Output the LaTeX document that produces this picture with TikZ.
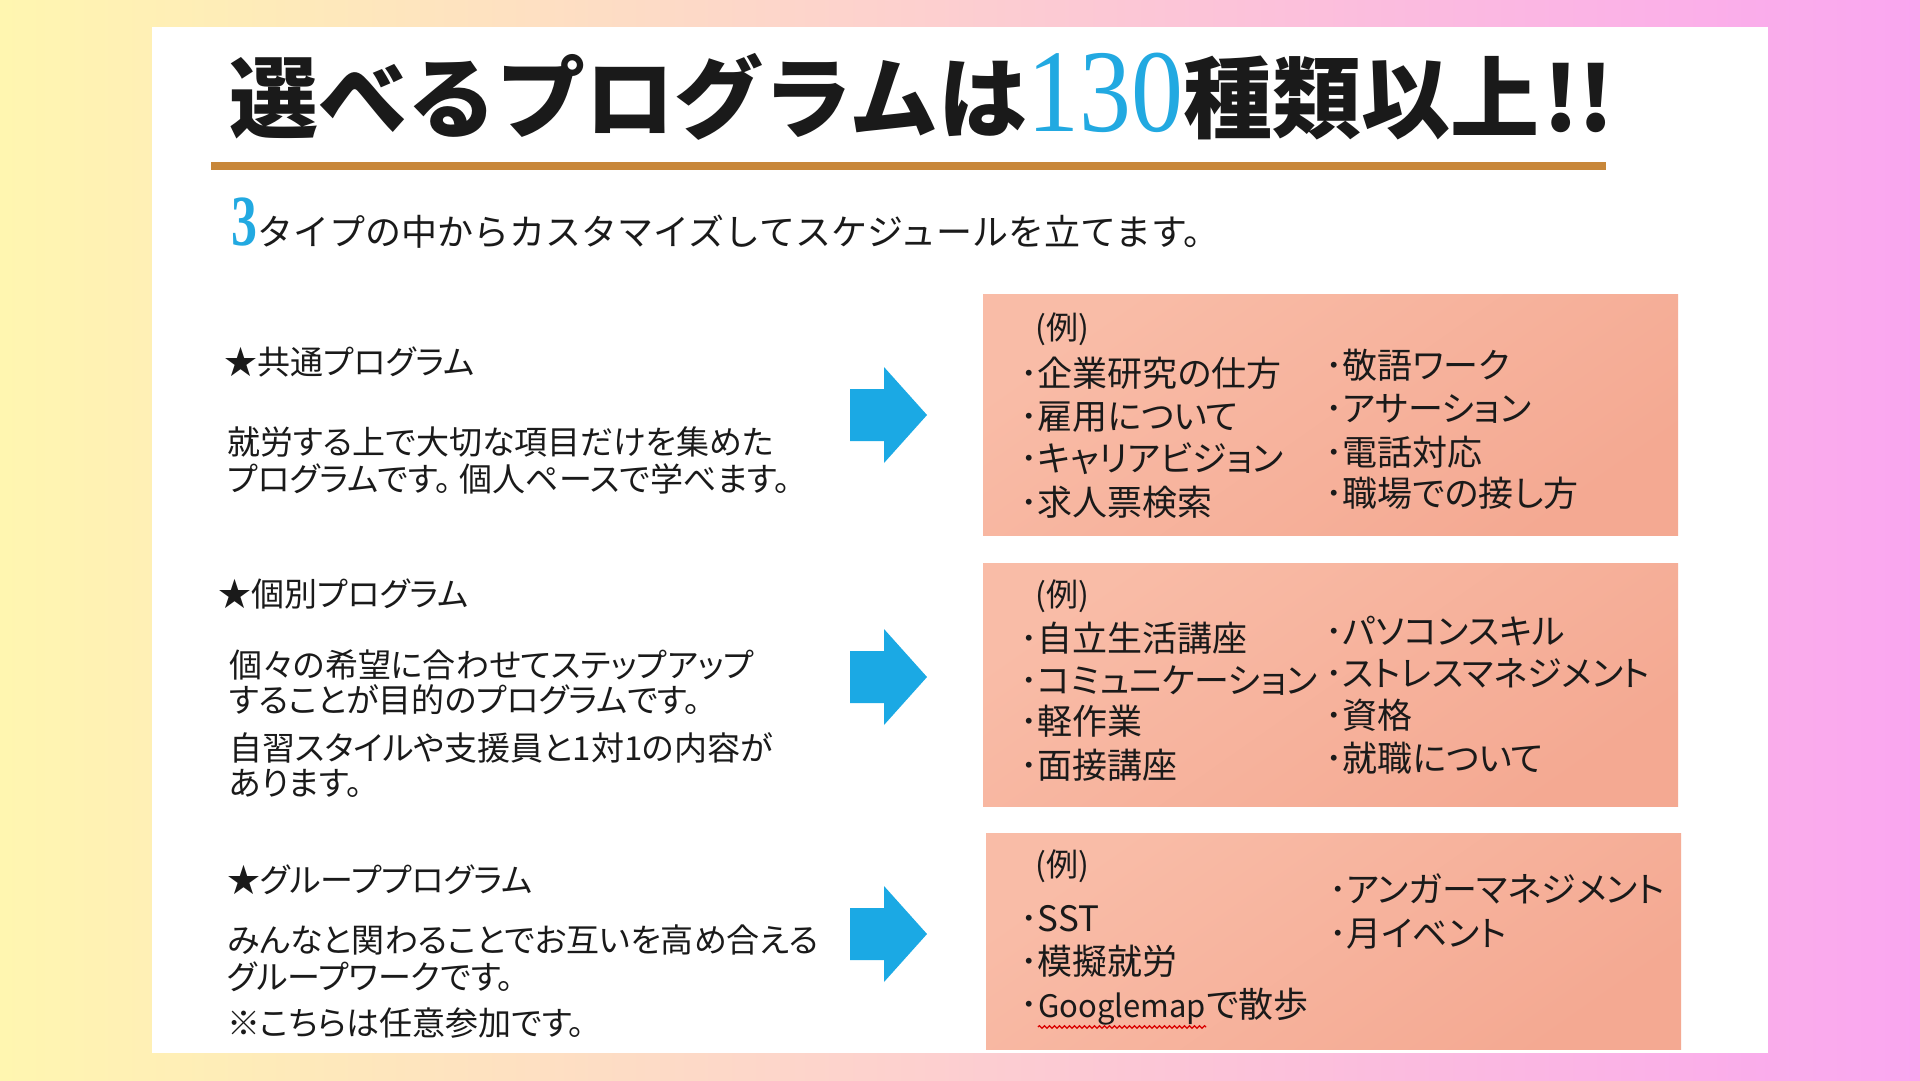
\documentclass[tikz,border=0pt]{standalone}
\usepackage{fontspec}
\usetikzlibrary{decorations.pathmorphing}
\newfontfamily\jp[RawFeature=+palt]{Noto Sans CJK JP}
\newfontfamily\jpt{Noto Sans CJK JP}
\newfontfamily\sernum{Liberation Serif}
\definecolor{bgL}{HTML}{FFF6B0}
\definecolor{bgR}{HTML}{FAA6F0}
\definecolor{ink}{HTML}{1A1A1A}
\definecolor{accent}{HTML}{22A9E1}
\definecolor{arrowc}{HTML}{1BA9E4}
\definecolor{rule}{HTML}{C8873A}
\definecolor{boxA}{HTML}{F9BCA7}
\definecolor{boxB}{HTML}{F4A992}
\tikzset{
  txt/.style={anchor=base west, inner sep=0pt, text=ink},
  head/.style={txt, font=\jp\fontsize{33}{40}\selectfont},
  desc/.style={txt, font=\jp\fontsize{33}{40}\selectfont},
  item/.style={txt, font=\jp\fontsize{35}{42}\selectfont},
  ex/.style={txt, font=\jp\fontsize{32}{40}\selectfont},
  exbox/.style={shade, top color=boxA, bottom color=boxB, shading angle=35,
    draw=none, inner sep=0pt, anchor=north west, minimum width=695pt},
  barrow/.pic={\fill[arrowc] (0,-26) -- (34,-26) -- (34,-48) -- (77,0) -- (34,48) -- (34,26) -- (0,26) -- cycle;}
}
\begin{document}
\begin{tikzpicture}[x=1pt,y=-1pt]
\useasboundingbox (0,0) rectangle (1920,1080);
\shade[left color=bgL, right color=bgR] (0,0) rectangle (1920,1080);
\fill[white] (152,27) rectangle (1768,1053);

% title
\node[txt, font=\jpt\bfseries\fontsize{89}{100}\selectfont] (title) at (229,131)
  {選べるプログラムは\textcolor{accent}{\scalebox{0.88}[1]{\sernum\mdseries\fontsize{118}{118}\selectfont 130}}種類以上\hspace{4pt}!!};
\coordinate (ruleL) at (211,166);
\coordinate (ruleR) at (1606,166);
\draw[rule, line width=8pt] (ruleL) -- (ruleR);

% subtitle
\node[txt, text=accent, font=\sernum\bfseries\fontsize{72}{72}\selectfont] (sub3) at (231,245) {\scalebox{0.72}[1]{3}};
\node[txt, font=\jpt\fontsize{36}{40}\selectfont] (sub) at (sub3.base east) {タイプの中からカスタマイズしてスケジュールを立てます。};

% example boxes
\node[exbox, minimum height=241pt] (box1) at (983,294) {};
\node[exbox, minimum height=243pt] (box2) at (983,563) {};
\node[exbox, minimum height=216pt] (box3) at (986,833) {};

% arrows
\pic at (850,415) {barrow};
\pic at (850,677) {barrow};
\pic at (850,934) {barrow};

% section 1
\node[head] (h1) at (224,374) {★共通プログラム};
\node[desc] (d1a) at (227,454) {就労する上で大切な項目だけを集めた};
\node[desc] (d1b) at (227,491) {プログラムです。\hspace{8pt}個人ペースで学べます。};

% section 2
\node[head] (h2) at (218,606) {★個別プログラム};
\node[desc] (d2a) at (229,677) {個々の希望に合わせてステップアップ};
\node[desc] (d2b) at (229,712) {することが目的のプログラムです。};
\node[desc] (d2c) at (229,760) {自習スタイルや支援員と1対1の内容が};
\node[desc] (d2d) at (229,795) {あります。};

% section 3
\node[head] (h3) at (227,892) {★グループプログラム};
\node[desc] (d3a) at (227,952) {みんなと関わることでお互いを高め合える};
\node[desc] (d3b) at (227,989) {グループワークです。};
\node[desc] (d3c) at (227,1035) {※こちらは任意参加です。};

% box 1 content
\node[ex] (e1) at (1035,339) {(例)};
\node[item] (b1l1) at (1020,386) {･企業研究の仕方};
\node[item] (b1l2) at (1020,429) {･雇用について};
\node[item] (b1l3) at (1020,471) {･キャリアビジョン};
\node[item] (b1l4) at (1020,515) {･求人票検索};
\node[item] (b1r1) at (1325,378) {･敬語ワーク};
\node[item] (b1r2) at (1325,421) {･アサーション};
\node[item] (b1r3) at (1325,465) {･電話対応};
\node[item] (b1r4) at (1325,506) {･職場での接し方};

% box 2 content
\node[ex] (e2) at (1035,606) {(例)};
\node[item] (b2l1) at (1020,651) {･自立生活講座};
\node[item] (b2l2) at (1020,693) {･コミュニケーション};
\node[item] (b2l3) at (1020,734) {･軽作業};
\node[item] (b2l4) at (1020,778) {･面接講座};
\node[item] (b2r1) at (1325,644) {･パソコンスキル};
\node[item] (b2r2) at (1325,686) {･ストレスマネジメント};
\node[item] (b2r3) at (1325,728) {･資格};
\node[item] (b2r4) at (1325,771) {･就職について};

% box 3 content
\node[ex] (e3) at (1035,876) {(例)};
\node[item] (b3l1) at (1020,931) {･SST};
\node[item] (b3l2) at (1020,974) {･模擬就労};
\node[item] (b3l3) at (1020,1017) {･};
\node[item, font=\jp\fontsize{31}{40}\selectfont] (gm) at (b3l3.base east) {Googlemap};
\node[item] (b3l3c) at (gm.base east) {で散歩};
\draw[red!85!black, line width=1.2pt, decorate, decoration={snake, amplitude=1.3pt, segment length=5pt}]
  ([yshift=-2pt]gm.south west) -- ([yshift=-2pt]gm.south east);
\node[item] (b3r1) at (1329,902) {･アンガーマネジメント};
\node[item] (b3r2) at (1329,946) {･月イベント};
\end{tikzpicture}
\end{document}
